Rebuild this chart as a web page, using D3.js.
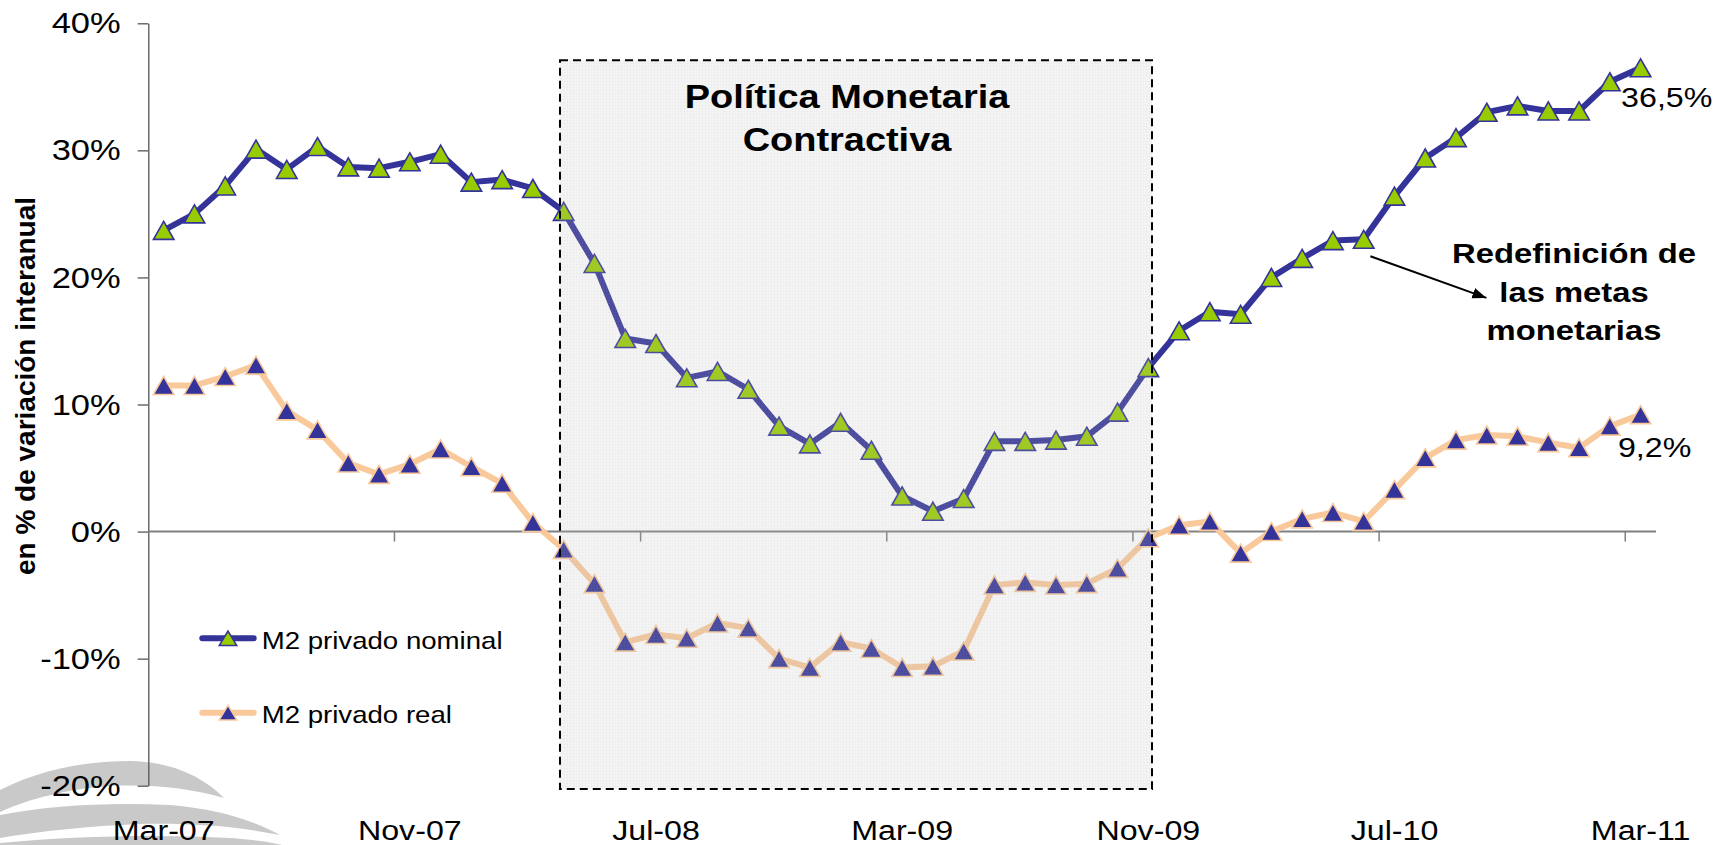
<!DOCTYPE html>
<html>
<head>
<meta charset="utf-8">
<script src="https://cdn.jsdelivr.net/npm/d3@7"></script>
<style>
  body { margin: 0; background: #fff; }
  text { font-family: "Liberation Sans", Arial, sans-serif; }
</style>
</head>
<body>
<svg width="1728" height="845"></svg>
<script>
// monthly categories, Mar-07 .. Mar-11
const months = [
  "Mar-07","Abr-07","May-07","Jun-07","Jul-07","Ago-07","Sep-07","Oct-07","Nov-07","Dic-07",
  "Ene-08","Feb-08","Mar-08","Abr-08","May-08","Jun-08","Jul-08","Ago-08","Sep-08","Oct-08","Nov-08","Dic-08",
  "Ene-09","Feb-09","Mar-09","Abr-09","May-09","Jun-09","Jul-09","Ago-09","Sep-09","Oct-09","Nov-09","Dic-09",
  "Ene-10","Feb-10","Mar-10","Abr-10","May-10","Jun-10","Jul-10","Ago-10","Sep-10","Oct-10","Nov-10","Dic-10",
  "Ene-11","Feb-11","Mar-11"
];

// % variación interanual
const nominal = [23.7, 25.0, 27.2, 30.1, 28.5, 30.3, 28.7, 28.6, 29.1, 29.7,
  27.5, 27.7, 27.0, 25.2, 21.1, 15.2, 14.8, 12.1, 12.6, 11.2,
  8.3, 6.9, 8.6, 6.4, 2.8, 1.6, 2.6, 7.1, 7.1, 7.2,
  7.5, 9.4, 12.9, 15.8, 17.3, 17.1, 20.0, 21.5, 22.9, 23.0,
  26.4, 29.4, 31.0, 33.0, 33.5, 33.1, 33.1, 35.4, 36.5];

const real = [11.5, 11.5, 12.2, 13.1, 9.5, 8.0, 5.4, 4.5, 5.3, 6.5,
  5.1, 3.8, 0.7, -1.4, -4.1, -8.7, -8.1, -8.4, -7.2, -7.6,
  -10.0, -10.7, -8.7, -9.2, -10.7, -10.6, -9.4, -4.2, -4.0, -4.2,
  -4.1, -2.9, -0.5, 0.5, 0.8, -1.7, 0.0, 1.0, 1.5, 0.8,
  3.3, 5.8, 7.2, 7.6, 7.5, 7.0, 6.6, 8.3, 9.2];

const yTicks = [-20, -10, 0, 10, 20, 30, 40];
const xLabels = ["Mar-07", "Nov-07", "Jul-08", "Mar-09", "Nov-09", "Jul-10", "Mar-11"];
const seriesNames = ["M2 privado nominal", "M2 privado real"];
const lastLabels = ["36,5%", "9,2%"];
const boxMonths = ["Abr-08", "Nov-09"];
const boxValues = [37.1, -20.25];
const arrowFrom = "Jun-10";

const svg = d3.select("svg");
const width = +svg.attr("width");
const height = +svg.attr("height");

const plotLeft = 148.3, plotRight = 1656, plotTop = 23.3, plotBottom = 785.7;
const SX = 1.15; // the original text is a bit stretched sideways

const x = d3.scaleBand().domain(months).range([plotLeft, plotRight]);
const cx = (m) => x(m) + x.bandwidth() / 2;
const y = d3.scaleLinear().domain([-20, 40]).range([plotBottom, plotTop]);

const navy = "#333399", green = "#99cc00", peach = "#f9c99b";

const tri = (w, h) => `M0,${-h / 2}L${w / 2},${h / 2}L${-w / 2},${h / 2}Z`;

const label = (txt, px, py, size, weight, anchor) =>
  svg.append("text")
    .attr("transform", `translate(${px},${py}) scale(${SX},1)`)
    .attr("text-anchor", anchor)
    .attr("font-size", size)
    .attr("font-weight", weight)
    .attr("fill", "#000")
    .text(txt);

// watermark swoosh, lower left
const swoosh = svg.append("g").attr("fill", "#c9c9c9");
swoosh.append("path").attr("d",
  "M0,790 C35,772 80,761 130,761 C172,762 202,776 224,798 C190,788 150,784 110,786 C70,789 30,798 0,812 Z");
swoosh.append("path").attr("d",
  "M0,815 C50,805 110,802 170,805 C218,809 252,820 280,835 C236,826 190,823 140,824 C90,826 40,831 0,838 Z");
swoosh.append("path").attr("d",
  "M0,843 C70,836 160,834 230,838 C255,840 270,842 282,845 L0,845 Z");

// y axis
const yAxis = svg.append("g")
  .attr("transform", `translate(${plotLeft},0)`)
  .call(d3.axisLeft(y).tickValues(yTicks).tickSize(10.6).tickSizeOuter(0)
    .tickFormat((d) => d + "%"));
yAxis.attr("font-size", null).attr("font-family", null);
yAxis.select(".domain").attr("stroke", "#555").attr("stroke-width", 1.3);
yAxis.selectAll(".tick line").attr("stroke", "#555").attr("stroke-width", 1.3);
yAxis.selectAll(".tick text")
  .attr("x", -24)
  .attr("font-size", 30)
  .attr("fill", "#000")
  .attr("transform", `scale(${SX},1)`);

// zero line with ticks at the 8-month boundaries
svg.append("line")
  .attr("x1", plotLeft).attr("x2", plotRight)
  .attr("y1", y(0)).attr("y2", y(0))
  .attr("stroke", "#808080").attr("stroke-width", 2);
svg.selectAll(".xtick")
  .data(months.filter((d, i) => i > 0 && i % 8 === 0))
  .join("line")
  .attr("class", "xtick")
  .attr("x1", (d) => x(d)).attr("x2", (d) => x(d))
  .attr("y1", y(0)).attr("y2", y(0) + 10)
  .attr("stroke", "#808080").attr("stroke-width", 1.5);

// x labels at the bottom
const xAxis = svg.append("g")
  .attr("transform", `translate(0,${plotBottom})`)
  .call(d3.axisBottom(x).tickValues(xLabels).tickSize(0).tickPadding(34));
xAxis.attr("font-size", null).attr("font-family", null);
xAxis.select(".domain").remove();
xAxis.selectAll(".tick text")
  .attr("font-size", 28)
  .attr("fill", "#000")
  .attr("transform", `scale(${SX},1)`);

// y axis title
svg.append("text")
  .attr("transform", "translate(35,386) rotate(-90)")
  .attr("text-anchor", "middle")
  .attr("font-size", 28)
  .attr("font-weight", "bold")
  .text("en % de variación interanual");

// series
const line = d3.line().x((d, i) => cx(months[i])).y((d) => y(d));

svg.append("path").datum(real)
  .attr("d", line).attr("fill", "none")
  .attr("stroke", peach).attr("stroke-width", 6).attr("stroke-linejoin", "round");
svg.append("path").datum(nominal)
  .attr("d", line).attr("fill", "none")
  .attr("stroke", navy).attr("stroke-width", 6).attr("stroke-linejoin", "round");

svg.append("g").selectAll("path")
  .data(real)
  .join("path")
  .attr("transform", (d, i) => `translate(${cx(months[i])},${y(d)})`)
  .attr("d", tri(20.5, 18))
  .attr("fill", navy).attr("stroke", peach).attr("stroke-width", 1.6);

svg.append("g").selectAll("path")
  .data(nominal)
  .join("path")
  .attr("transform", (d, i) => `translate(${cx(months[i])},${y(d)})`)
  .attr("d", tri(20.5, 18))
  .attr("fill", green).attr("stroke", navy).attr("stroke-width", 1.6);

// end labels
const last = months[months.length - 1];
label(lastLabels[0], cx(last) - 19.5, y(nominal[nominal.length - 1]) + 39.7, 28, "normal", "start");
label(lastLabels[1], cx(last) - 22.7, y(real[real.length - 1]) + 42.8, 28, "normal", "start");

// shaded period box (drawn over the lines, semi transparent)
const defs = svg.append("defs");
const pat = defs.append("pattern")
  .attr("id", "grain").attr("width", 3).attr("height", 3)
  .attr("patternUnits", "userSpaceOnUse");
pat.append("rect").attr("width", 3).attr("height", 3).attr("fill", "rgba(190,190,190,0.17)");
pat.append("path").attr("d", "M0,0.5H3M0.5,0V3")
  .attr("stroke", "rgba(170,170,170,0.05)").attr("stroke-width", 1);

const bx0 = cx(boxMonths[0]) - 3.7;
const bx1 = cx(boxMonths[1]) + 3.7;
svg.append("rect")
  .attr("x", bx0).attr("y", y(boxValues[0]))
  .attr("width", bx1 - bx0).attr("height", y(boxValues[1]) - y(boxValues[0]))
  .attr("fill", "url(#grain)")
  .attr("stroke", "#000").attr("stroke-width", 2).attr("stroke-dasharray", "8,5");

const titleX = (bx0 + bx1) / 2 - 9;
label("Política Monetaria", titleX, 107.7, 33, "bold", "middle");
label("Contractiva", titleX, 151, 33, "bold", "middle");

// annotation with arrow
defs.append("marker")
  .attr("id", "head").attr("markerUnits", "userSpaceOnUse")
  .attr("markerWidth", 16).attr("markerHeight", 12)
  .attr("refX", 14).attr("refY", 5.5).attr("orient", "auto")
  .append("path").attr("d", "M0,0L14,5.5L0,11Z").attr("fill", "#000");

const ax = cx(arrowFrom), ay = y(nominal[months.indexOf(arrowFrom)]);
svg.append("line")
  .attr("x1", ax + 6.7).attr("y1", ay + 17)
  .attr("x2", ax + 122.7).attr("y2", ay + 58.6)
  .attr("stroke", "#000").attr("stroke-width", 2)
  .attr("marker-end", "url(#head)");

label("Redefinición de", 1574, 263.3, 28.5, "bold", "middle");
label("las metas", 1574, 301.7, 28.5, "bold", "middle");
label("monetarias", 1574, 340, 28.5, "bold", "middle");

// legend
const legend = svg.append("g");
const legendRows = [
  { name: seriesNames[0], stroke: navy, fill: green, mstroke: navy, ly: 638.3 },
  { name: seriesNames[1], stroke: peach, fill: navy, mstroke: peach, ly: 712.7 }
];
legendRows.forEach((r) => {
  legend.append("line")
    .attr("x1", 202.3).attr("x2", 253.7).attr("y1", r.ly).attr("y2", r.ly)
    .attr("stroke", r.stroke).attr("stroke-width", 6).attr("stroke-linecap", "round");
  legend.append("path")
    .attr("transform", `translate(228,${r.ly})`)
    .attr("d", tri(17.5, 14.5))
    .attr("fill", r.fill).attr("stroke", r.mstroke).attr("stroke-width", 1.5);
  label(r.name, 261.7, r.ly + 10.3, 24, "normal", "start");
});
</script>
</body>
</html>
